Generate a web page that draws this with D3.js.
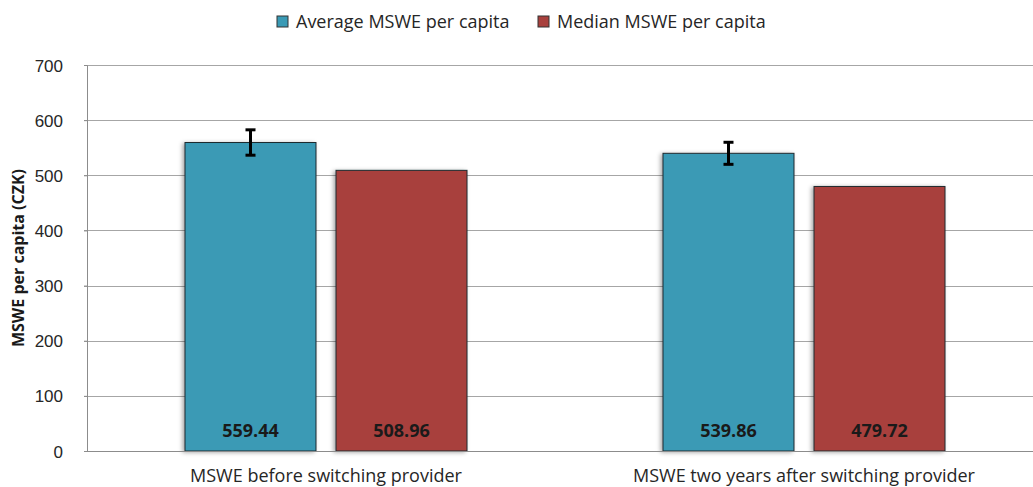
<!DOCTYPE html>
<html>
<head>
<meta charset="utf-8">
<script src="https://cdn.jsdelivr.net/npm/d3@7"></script>
<style>
  body { margin: 0; background: #fff; }
  svg { display: block; font-family: "Open Sans", sans-serif; }
  .grid line { stroke: #a6a6a6; stroke-width: 1; }
  .tick text { fill: #262626; }
</style>
</head>
<body>
<div id="chart"></div>
<script>
// data
const categories = ['MSWE before switching provider', 'MSWE two years after switching provider'];
const seriesNames = ['Average MSWE per capita', 'Median MSWE per capita'];
const averageValues = [559.44, 539.86];
const medianValues = [508.96, 479.72];
const averageErrors = [23, 20];
const yTicks = [0, 100, 200, 300, 400, 500, 600, 700];

const WIDTH = 1033;
const HEIGHT = 487;
const margin = { top: 65, right: -10, bottom: 36, left: 87 };
const colors = ['#3a9ab5', '#a8403d'];

const rows = categories.map((c, i) => ({
	category: c,
	values: [
		{ key: seriesNames[0], value: averageValues[i], err: averageErrors[i] },
		{ key: seriesNames[1], value: medianValues[i], err: null }
	]
}));

const $svg = d3.select('#chart').append('svg')
	.attr('width', WIDTH)
	.attr('height', HEIGHT);

const defs = $svg.append('defs');
const filter = defs.append('filter').attr('id', 'shadow')
	.attr('x', '-10%').attr('y', '-10%').attr('width', '120%').attr('height', '120%');
filter.append('feDropShadow')
	.attr('dx', -2).attr('dy', 1).attr('stdDeviation', 2)
	.attr('flood-color', '#000').attr('flood-opacity', 0.35);

const innerW = WIDTH - margin.left - margin.right;
const innerH = HEIGHT - margin.top - margin.bottom;

const x0 = d3.scaleBand().domain(categories).range([0, innerW]).paddingInner(0).paddingOuter(0);
const x1 = d3.scaleBand().domain(seriesNames).range([0, x0.bandwidth() * 0.59])
	.paddingInner(0.1325).paddingOuter(0);
const y = d3.scaleLinear().domain([0, 700]).range([innerH, 0]);

const $g = $svg.append('g').attr('transform', `translate(${margin.left},${margin.top})`);

// gridlines
$g.append('g').attr('class', 'grid')
	.selectAll('line')
	.data(yTicks.filter(d => d > 0))
	.join('line')
	.attr('x1', -3)
	.attr('x2', WIDTH - margin.left)
	.attr('y1', d => Math.round(y(d)) + 0.5)
	.attr('y2', d => Math.round(y(d)) + 0.5);

// y axis
const $yAxis = $g.append('g')
	.call(d3.axisLeft(y).tickValues(yTicks).tickSize(3).tickPadding(21));
$yAxis.select('.domain').attr('stroke', '#8c8c8c');
$yAxis.selectAll('.tick line').attr('stroke', '#8c8c8c');
$yAxis.selectAll('.tick text').style('font-size', '17px').attr('dy', '0.36em');

// bars
const groupOffset = (x0.bandwidth() - x1.range()[1]) / 2;
const $groups = $g.append('g').selectAll('g.group')
	.data(rows)
	.join('g')
	.attr('class', 'group')
	.attr('transform', d => `translate(${x0(d.category) + groupOffset},0)`);

$groups.selectAll('rect')
	.data(d => d.values)
	.join('rect')
	.attr('x', d => x1(d.key))
	.attr('y', d => y(d.value))
	.attr('width', x1.bandwidth())
	.attr('height', d => innerH - y(d.value))
	.attr('fill', (d, i) => colors[i])
	.attr('stroke', '#1f2a30')
	.attr('stroke-width', 1)
	.attr('filter', 'url(#shadow)');

// value labels
$groups.selectAll('text.value')
	.data(d => d.values)
	.join('text')
	.attr('class', 'value')
	.attr('x', d => x1(d.key) + x1.bandwidth() / 2)
	.attr('y', innerH - 14)
	.attr('text-anchor', 'middle')
	.style('font-size', '18px')
	.style('font-weight', 'bold')
	.attr('fill', '#1a1a1a')
	.text(d => d.value.toFixed(2));

// error bars
const errData = d => d.values.filter(v => v.err != null);
const $err = $groups.selectAll('g.err')
	.data(errData)
	.join('g')
	.attr('class', 'err')
	.attr('transform', d => `translate(${x1(d.key) + x1.bandwidth() / 2},0)`);
$err.append('line')
	.attr('y1', d => y(d.value + d.err))
	.attr('y2', d => y(d.value - d.err))
	.attr('stroke', '#000').attr('stroke-width', 3);
$err.selectAll('line.cap')
	.data(d => [d.value + d.err, d.value - d.err])
	.join('line')
	.attr('class', 'cap')
	.attr('x1', -5).attr('x2', 5)
	.attr('y1', v => y(v)).attr('y2', v => y(v))
	.attr('stroke', '#000').attr('stroke-width', 3);

// x axis line
$g.append('line')
	.attr('x1', 0).attr('x2', WIDTH - margin.left)
	.attr('y1', innerH + 0.5).attr('y2', innerH + 0.5)
	.attr('stroke', '#8c8c8c');

// category labels
$g.append('g').selectAll('text')
	.data(categories)
	.join('text')
	.attr('x', d => x0(d) + x0.bandwidth() / 2)
	.attr('y', innerH + 31)
	.attr('text-anchor', 'middle')
	.style('font-size', '18px')
	.attr('fill', '#262626')
	.text(d => d);

// y axis title
$svg.append('text')
	.attr('transform', `translate(24,${margin.top + innerH / 2}) rotate(-90)`)
	.attr('text-anchor', 'middle')
	.style('font-size', '16px')
	.style('font-weight', 'bold')
	.attr('fill', '#1a1a1a')
	.text('MSWE per capita (CZK)');

// legend
const legendX = [277, 538];
const $legend = $svg.append('g').selectAll('g')
	.data(seriesNames)
	.join('g')
	.attr('transform', (d, i) => `translate(${legendX[i]},16)`);
$legend.append('rect')
	.attr('width', 11).attr('height', 11)
	.attr('fill', (d, i) => colors[i])
	.attr('stroke', '#333').attr('stroke-width', 1);
$legend.append('text')
	.attr('x', 19).attr('y', 12)
	.style('font-size', '18px')
	.attr('fill', '#262626')
	.text(d => d);
</script>
</body>
</html>
